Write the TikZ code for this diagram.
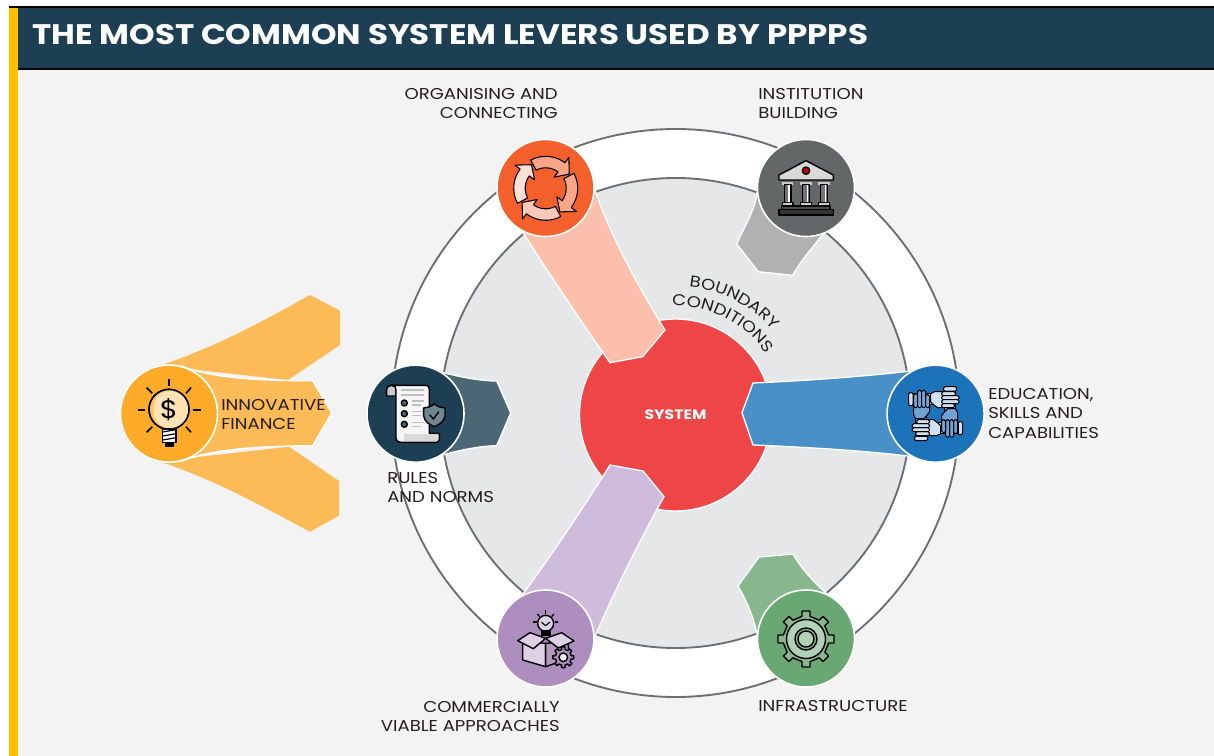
\documentclass[tikz,border=0pt]{standalone}
\usepackage{fontspec}
\setmainfont[FakeStretch=1.15]{Poppins}
\usetikzlibrary{backgrounds,decorations.text}
\definecolor{navy}{HTML}{1C3F53}
\definecolor{strip}{HTML}{FFC000}
\definecolor{panel}{HTML}{F3F3F3}
\definecolor{ringgrey}{HTML}{6D6E71}
\definecolor{innerfill}{HTML}{E6E7E9}
\definecolor{sysred}{HTML}{EE4647}
\definecolor{cOrange}{HTML}{F4602B}\definecolor{bOrange}{HTML}{FBBFAB}
\definecolor{cGrey}{HTML}{646767}\definecolor{bGrey}{HTML}{B0B2B1}
\definecolor{cPurple}{HTML}{AE8DBF}\definecolor{bPurple}{HTML}{CFBBDB}
\definecolor{cGreen}{HTML}{69A872}\definecolor{bGreen}{HTML}{88B78E}
\definecolor{cBlue}{HTML}{1C73BA}\definecolor{bBlue}{HTML}{4A90C8}
\definecolor{cNavy}{HTML}{1C3F53}\definecolor{bNavy}{HTML}{4B6776}
\definecolor{cYellow}{HTML}{FDAB29}\definecolor{bYellow}{HTML}{FDBB57}
\definecolor{handmid}{HTML}{6FA4D6}\definecolor{handpale}{HTML}{CFE0F0}
\definecolor{ink}{HTML}{231F20}
\tikzset{
  x=.75pt,y=-.75pt,
  lever/.style={circle,draw=white,line width=1.2pt,minimum size=72.8pt,inner sep=0pt},
  band/.style={draw=white,line width=1pt,line join=miter},
  lab/.style={inner sep=0pt,text=ink,font=\fontsize{11.8}{14.3}\selectfont},
  labl/.style={lab,align=left,anchor=north west},
  labr/.style={lab,align=right,anchor=north east},
  ic/.style={draw=black,line width=1.05pt,line join=round,line cap=round},
  zc/.style 2 args={shift={(#1,#2)},x=.25pt,y=-.25pt},
  up/.style={shift={(#1)},x=.75pt,y=.75pt},
}
\begin{document}
\begin{tikzpicture}
\useasboundingbox (0,0) rectangle (1214,756);
% lever circles
\node[lever,fill=cOrange] (orange) at (545.5,188) {};
\node[lever,fill=cGrey] (grey) at (806,188) {};
\node[lever,fill=cPurple] (purple) at (545.5,638.5) {};
\node[lever,fill=cGreen] (green) at (806,638.5) {};
\node[lever,fill=cBlue] (blue) at (935.6,413.7) {};
\node[lever,fill=cNavy] (rules) at (415.5,413.7) {};
\node[lever,fill=cYellow] (yellow) at (169,413.6) {};
\begin{scope}[on background layer]
  \fill[white] (0,0) rectangle (1214,756);
  \fill[panel] (18,69) rectangle (1214,756);
  \fill[strip] (9,7) rectangle (18,756);
  \fill[navy] (18,7) rectangle (1214,69);
  \draw[black,line width=1.3pt] (9,7) -- (1214,7);
  \draw[black,line width=1.3pt] (18,69) -- (1214,69);
  \node[circle,fill=white,draw=ringgrey,line width=1.4pt,minimum size=426pt,inner sep=0pt] (outerring) at (675.5,413) {};
  \node[circle,fill=innerfill,draw=ringgrey,line width=1.4pt,minimum size=352.5pt,inner sep=0pt] (innerring) at (675.5,413) {};
  \node[circle,fill=sysred,draw=white,line width=1pt,minimum size=144pt,inner sep=0pt,text=white,font=\fontsize{10.2}{12}\selectfont\bfseries] (system) at (675.5,415) {SYSTEM};
  % bands
  \draw[band,fill=bOrange] (orange.-2) .. controls (610,235) and (640,290) .. (665,330) -- (642.7,356.7) -- (610,362.7) .. controls (580,320) and (550,275) .. (orange.-118) -- cycle;
  \draw[band,fill=bGrey] (grey.186) .. controls (755,210) and (745,225) .. (736.7,244) -- (758.3,271.7) -- (792.7,275.3) .. controls (800,262) and (812,248) .. (grey.-70) -- cycle;
  \draw[band,fill=bPurple] (purple.118) .. controls (555,550) and (585,505) .. (610,465) -- (643,471) -- (664,496.7) .. controls (640,540) and (615,590) .. (purple.2) -- cycle;
  \draw[band,fill=bGreen] (green.174) .. controls (753,615) and (746,600) .. (738,586) -- (759,557) -- (793,554) .. controls (802,570) and (815,583) .. (green.65) -- cycle;
  \draw[band,fill=bBlue] (blue.120) .. controls (860,377) and (800,381) .. (753,383) -- (742,412.7) -- (753,445) .. controls (800,447) and (860,450) .. (blue.-120) -- cycle;
  \draw[band,fill=bNavy] (rules.57) .. controls (460,377) and (480,381) .. (496.7,381) -- (510.7,413) -- (496.7,445.7) .. controls (480,446) and (460,450) .. (rules.-57) -- cycle;
  \draw[band,draw=none,fill=bYellow] (yellow.97) .. controls (220,345) and (265,320) .. (310,295) -- (340,310.7) -- (340,345) -- (288,380) -- (180,368) -- cycle;
  \draw[band,draw=none,fill=bYellow] (yellow.-97) .. controls (220,482) and (265,508) .. (310,531.7) -- (339,515.7) -- (339,481) -- (289,446.7) -- (180,459) -- cycle;
  \draw[band,fill=bYellow] (yellow.75) .. controls (210,378) and (260,381) .. (312.7,380.7) -- (331.7,413) -- (312.7,445.7) .. controls (260,446) and (210,449) .. (yellow.-75) -- cycle;
\end{scope}
% title
\node[anchor=west,inner sep=0pt,text=white,font=\fontsize{21.2}{25}\selectfont\bfseries] (title) at (32,35) {THE MOST COMMON SYSTEM LEVERS USED BY PPPPS};
% labels
\node[labr] (lorg) at (558,88.5) {ORGANISING AND\\CONNECTING};
\node[labl] (linst) at (758,88.5) {INSTITUTION\\BUILDING};
\node[labl] (ledu) at (988,388.5) {EDUCATION,\\SKILLS AND\\CAPABILITIES};
\node[labl] (linno) at (221,399.5) {INNOVATIVE\\FINANCE};
\node[labl] (lrules) at (387,472.5) {RULES\\AND NORMS};
\node[labr] (lcomm) at (560,701.5) {COMMERCIALLY\\VIABLE APPROACHES};
\node[labl] (linfra) at (758,700.5) {INFRASTRUCTURE};
% curved text
\coordinate (ba) at (689,286.7); \coordinate (bb) at (722.4,290.1); \coordinate (bc) at (753.2,306.3); \coordinate (bd) at (774.8,332); \coordinate (be) at (795,356);
\path[decorate,decoration={text along path,text color=ink,text={|\fontsize{11.8}{14}\selectfont|BOUNDARY}}] (ba) .. controls (bb) and (bc) .. (bd) -- (be);
\coordinate (ca) at (672.2,306.1); \coordinate (cb) at (709.8,304.8); \coordinate (cc) at (745.4,322.8); \coordinate (cd) at (766.4,354); \coordinate (ce) at (782,377);
\path[decorate,decoration={text along path,text color=ink,text={|\fontsize{11.8}{14}\selectfont|CONDITIONS}}] (ca) .. controls (cb) and (cc) .. (cd) -- (ce);

% ---- cycle icon
\begin{scope}[up={545.7,188.3}]
  \foreach \r/\c in {0/FDE0D6,-90/F9A688,-180/F9A688,-270/FBC9B7}{
    \definecolor{tmpc}{HTML}{\c}
    \begin{scope}[rotate=\r]
      \draw[ic,line width=.8pt,fill=tmpc] (143:38.5) -- (121:27.5) -- (143:14) -- (143:20.5) arc (143:208:20.5) -- (208:32) arc (208:143:32) -- cycle;
    \end{scope}
  }
\end{scope}
% ---- bank icon
\begin{scope}[zc={480}{120}]
  \draw[ic,fill=white!85!black] (978,122) -- (1060,165) -- (1060,180) -- (897,180) -- (897,165) -- cycle;
  \draw[ic,fill=red!80!black] (978,152) circle (11);
  \foreach \cx in {923,978,1032}{
    \fill[white!80!black] (\cx-17,186) rectangle (\cx+17,194);
    \draw[ic,fill=black!55] (\cx-10,194) rectangle (\cx+10,248);
    \fill[white] (\cx+2,196) rectangle (\cx+7,246);
    \draw[ic,fill=white!80!black] (\cx-16,248) rectangle (\cx+16,256);
  }
  \draw[ic,fill=black!70] (905,258) rectangle (1050,268);
  \draw[ic,fill=black!80] (897,268) rectangle (1060,285);
\end{scope}
% ---- hands icon
\begin{scope}[up={blue.center}]
  \foreach \r/\c in {0/handmid,-90/handpale,-180/handmid,-270/handpale}{
    \begin{scope}[rotate=\r]
      \draw[ic,line width=.8pt,fill=handpale,rounded corners=1pt] (-21,-27) rectangle (-8,-22.5);
      \draw[ic,line width=.8pt,fill=\c] (-20,-22.5) rectangle (-9,2);
    \end{scope}
  }
  \foreach \r/\c in {-270/handpale,-180/handmid,-90/handpale,0/handmid}{
    \begin{scope}[rotate=\r]
      \draw[ic,line width=.8pt,fill=\c] (-22,-1) -- (-22,8) -- (-6,8) -- (-6,2) -- (-9,-2) -- (-12,-5) -- (-20,-5) -- cycle;
      \foreach \f in {0,1,2,3}{
        \draw[ic,line width=.75pt,fill=\c,rounded corners=1.2pt] ({-22+\f*4},6) rectangle ({-18+\f*4},{\f==0?20:(\f==3?19:23.5)});
      }
    \end{scope}
  }
\end{scope}
% ---- rules icon
\begin{scope}[zc={100}{280}]
  \draw[ic,fill=white!80!black] (875,316) -- (888,316) -- (888,348) -- (860,348) -- (860,330) .. controls (860,320) and (868,316) .. (875,316) -- cycle;
  \draw[ic,fill=white!96!black] (875,316) -- (978,316) .. controls (985,316) and (988,320) .. (988,328) -- (988,460) -- (1018,460) -- (1018,478) .. controls (1018,484) and (1014,487) .. (1008,487) -- (905,487) .. controls (894,487) and (888,482) .. (888,472) -- (888,330) .. controls (888,322) and (884,316) .. (875,316);
  \fill[white!85!black] (912,463) rectangle (1015,483);
  \foreach \yy in {330,345}{\draw[white!75!black,line width=.9pt] (902,\yy) -- (972,\yy);}
  \foreach \yy in {369,401,433}{
    \draw[ic,fill=bNavy] (913,\yy) circle (9);
    \draw[white!75!black,line width=.9pt] (937,\yy-6) -- (972,\yy-6);
    \draw[white!75!black,line width=.9pt] (937,\yy+6) -- (962,\yy+6);
  }
  \draw[ic,fill=bNavy!80!white] (1003,372) .. controls (1014,380) and (1024,384) .. (1035,384) -- (1035,408) .. controls (1033,424) and (1018,434) .. (1003,440) .. controls (988,434) and (973,424) .. (971,408) -- (971,384) .. controls (982,384) and (992,380) .. (1003,372) -- cycle;
  \draw[ic] (990,405) -- (1000,417) -- (1016,396);
\end{scope}
% ---- bulb icon
\begin{scope}[zc={100}{280}]
  \foreach \a/\b/\c/\d in {207/296/207/318,113/390/135/390,278/390/302/390,140/323/157/340,273/323/258/340,140/457/157/440,273/457/258/440}{
    \draw[black,line width=1.2pt] (\a,\b) -- (\c,\d);
  }
  \draw[ic,fill=cYellow!75!white] (207,388) circle (60);
  \fill[white!65!cYellow] (207,332) .. controls (175,335) and (160,358) .. (160,388) .. controls (160,420) and (178,442) .. (207,444) .. controls (240,444) and (265,420) .. (265,388) .. controls (265,356) and (240,332) .. (207,332) -- cycle;
  \draw[ic] (207,388) circle (60);
  \draw[ic,fill=white] (188,447) rectangle (228,488);
  \foreach \yy in {456,468,480}{\draw[black,line width=.9pt] (188,\yy) -- (228,\yy-7);}
  \draw[ic,fill=black] (196,488) rectangle (220,498);
  \node[text=black,inner sep=0pt,font=\fontsize{19}{21}\selectfont] (dollar) at (207,388) {\$};
\end{scope}
% ---- box icon
\begin{scope}[zc={480}{460}]
  \foreach \a/\b/\c/\d in {197/451/197/461,160/486/170/486,225/486/234/486,172/462/179/470,222/462/215/470}{
    \draw[black,line width=.9pt] (\a,\b) -- (\c,\d);
  }
  \draw[ic,fill=white!60!cPurple] (197,490) circle (24);
  \draw[ic,fill=black] (184,513) rectangle (210,527);
  \draw[ic,line width=.8pt] (185,487) -- (197,497) -- (209,487);
  \draw[ic,fill=white!60!cPurple] (128,545) -- (128,600) -- (197,620) -- (197,550) -- cycle;
  \draw[ic,fill=cPurple!90!white] (197,550) -- (197,620) -- (265,596) -- (265,545) -- cycle;
  \draw[ic,fill=white!60!cPurple] (113,542) -- (150,518) -- (197,535) -- (160,566) -- cycle;
  \draw[ic,fill=white!60!cPurple] (197,535) -- (245,518) -- (282,543) -- (235,564) -- cycle;
\end{scope}
\begin{scope}[up={563.3,657.3}]
  \draw[ic,fill=cPurple] (-12:8) \foreach \a in {0,45,...,315}{ -- (\a-12:8) -- (\a-9:10.5) -- (\a+9:10.5) -- (\a+12:8) -- (\a+33:8)} -- cycle;
  \draw[ic,fill=white!85!cPurple] (0,0) circle (4.3);
\end{scope}
% ---- gear icon
\begin{scope}[up={806,639}]
  \draw[ic,fill=bGreen] (-10:23) \foreach \a in {0,45,...,315}{ -- (\a-10:23) -- (\a-8:28.3) -- (\a+8:28.3) -- (\a+10:23) -- (\a+35:23)} -- cycle;
  \draw[ic,fill=white!35!bGreen] (0,0) circle (19.5);
  \draw[ic,fill=bGreen] (0,0) circle (11);
  \draw[ic,fill=white!35!bGreen] (0,0) circle (8);
\end{scope}
\end{tikzpicture}
\end{document}
